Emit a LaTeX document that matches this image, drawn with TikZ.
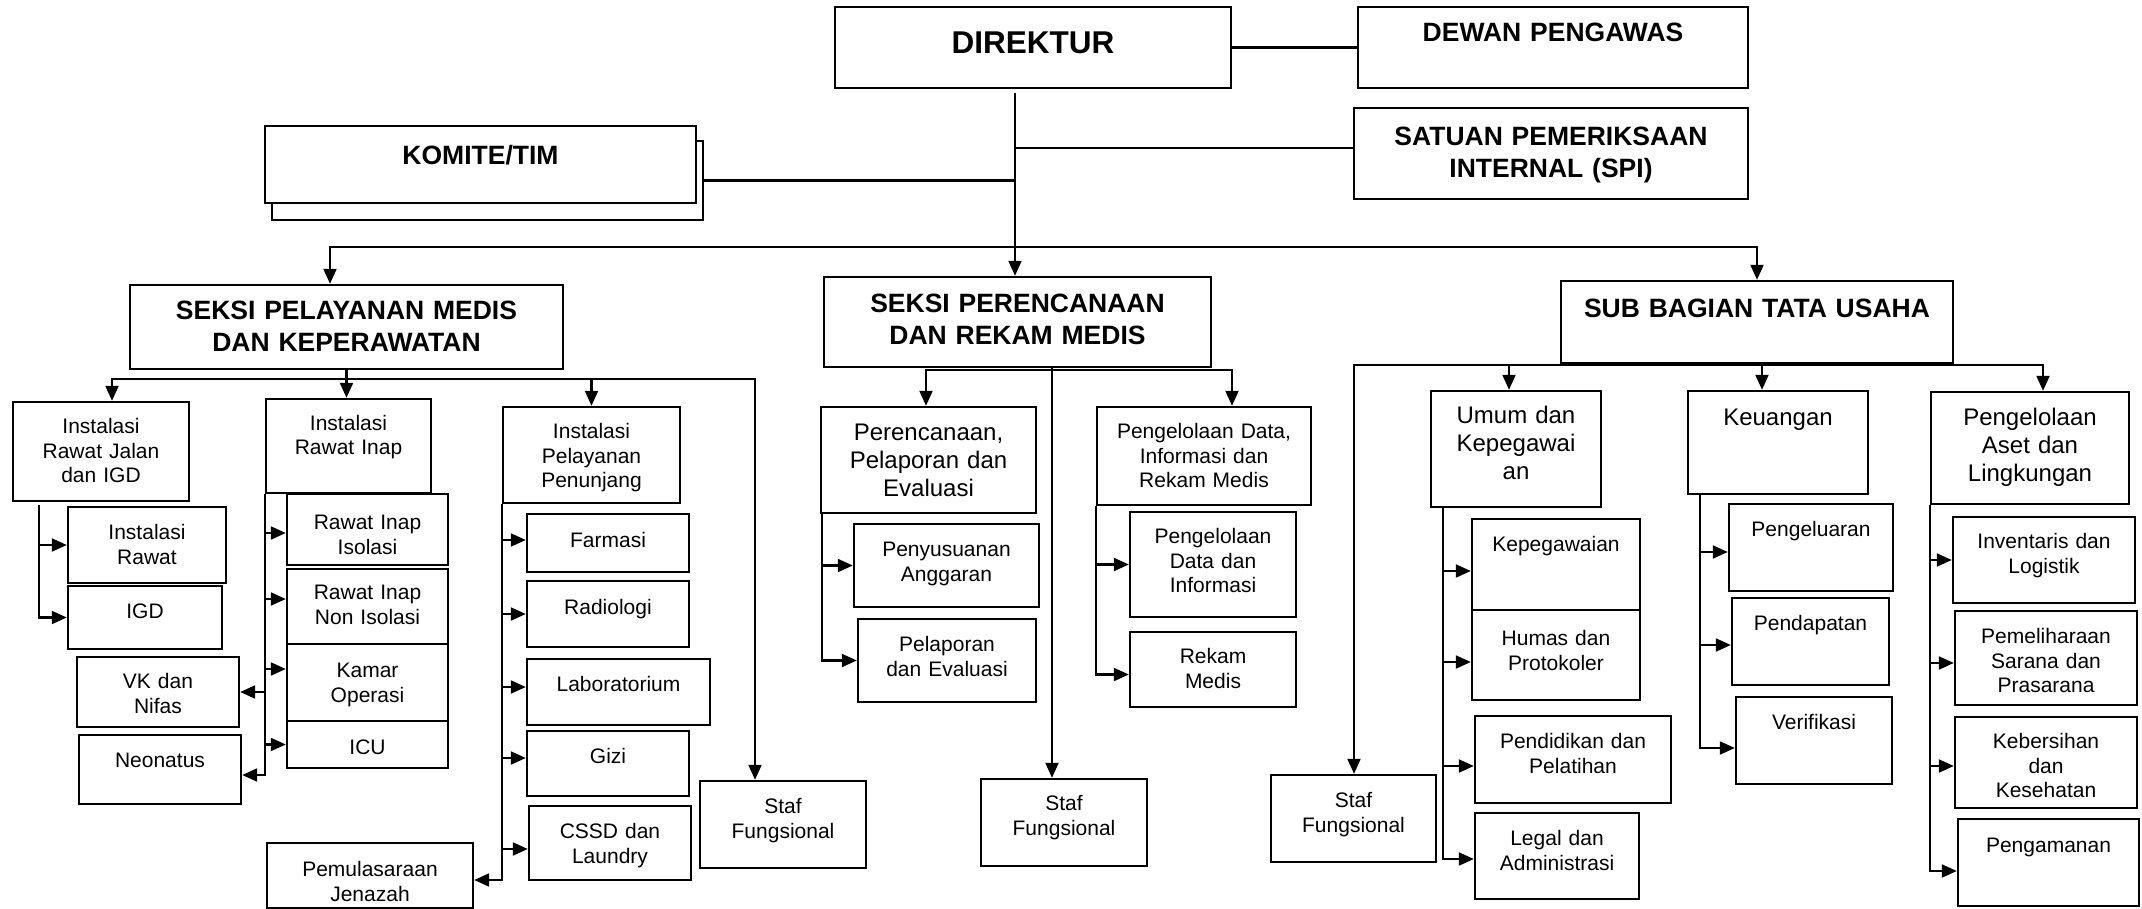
\documentclass[tikz,border=0pt]{standalone}
\usepackage{fontspec}
\setmainfont{Liberation Sans}
\usetikzlibrary{arrows.meta,positioning,calc}

\begin{document}
\begin{tikzpicture}[
x=1pt,
y=-1pt,
box/.style={rectangle,draw,line width=2.4pt,fill=white,inner sep=0pt,align=center},
toppad/.code={\def\bxpad{#1pt}},
wh/.code 2 args={\pgfmathsetlengthmacro\bxdep{#2pt-\bxpad}%
  \edef\bxset{\noexpand\tikzset{text width=#1pt,text height=\bxpad,text depth=\bxdep}}\bxset},
unitbox/.style={box,font=\fontsize{21}{24.5}\selectfont,toppad=32.5},
subbox/.style={box,font=\fontsize{24}{28}\selectfont,toppad=33.5},
headbox/.style={box,font=\fontsize{26.5}{32}\selectfont\bfseries,toppad=36},
chiefbox/.style={box,font=\fontsize{31.5}{36}\selectfont\bfseries,toppad=47},
dy/.style={transform canvas={yshift=#1}},
ln/.style={line width=2.1pt},
arr/.style={line width=2.1pt,-{Triangle[length=15pt,width=13pt]}},
arrs/.style={line width=2.1pt,{Triangle[length=15pt,width=13pt]}-{Triangle[length=15pt,width=13pt]}}
]
\useasboundingbox (0,0) rectangle (2142,909);

\node[chiefbox,wh={396}{81}] (dir) at (1033,47.5) {DIREKTUR};
\node[headbox,toppad=34.5,wh={390}{81}] (dewan) at (1553,47.5) {DEWAN PENGAWAS};
\node[headbox,toppad=37.5,wh={394}{91}] (spi) at (1551,153.5) {SATUAN PEMERIKSAAN\\INTERNAL (SPI)};
\node[headbox,wh={431}{79}] (komback) at (487.5,180.5) {};
\node[headbox,toppad=38.5,wh={431}{77}] (komite) at (480.5,164.5) {KOMITE/TIM};

\node[headbox,toppad=34.5,wh={433}{84}] (sp) at (346.5,327) {SEKSI PELAYANAN MEDIS\\DAN KEPERAWATAN};
\node[headbox,toppad=35.5,wh={387}{90}] (spr) at (1017.5,322) {SEKSI PERENCANAAN\\DAN REKAM MEDIS};
\node[headbox,toppad=36.5,wh={392}{82}] (sbtu) at (1757,322) {SUB BAGIAN TATA USAHA};

\node[unitbox,toppad=31.5,wh={176}{99}] (rj) at (101,451.5) {Instalasi\\Rawat Jalan\\dan IGD};
\node[unitbox,wh={158}{76}] (irawat) at (147,545) {Instalasi\\Rawat};
\node[unitbox,wh={154}{63}] (igd) at (145,617.5) {IGD};
\node[unitbox,toppad=31.5,wh={162}{70}] (vk) at (158,692) {VK dan\\Nifas};
\node[unitbox,wh={162}{69}] (neo) at (160,769.5) {Neonatus};

\node[unitbox,toppad=31,wh={165}{94}] (ri) at (348.5,446) {Instalasi\\Rawat Inap};
\node[unitbox,toppad=35.5,wh={161}{71}] (isol) at (367.5,529.5) {Rawat Inap\\Isolasi};
\node[unitbox,toppad=30.5,wh={161}{75}] (nonisol) at (367.5,606.5) {Rawat Inap\\Non Isolasi};
\node[unitbox,toppad=33.5,wh={161}{77}] (kamar) at (367.5,682.5) {Kamar\\Operasi};
\node[unitbox,toppad=33.5,wh={161}{47}] (icu) at (367.5,744.5) {ICU};

\node[unitbox,toppad=31.5,wh={177}{96}] (pen) at (591.5,455) {Instalasi\\Pelayanan\\Penunjang};
\node[unitbox,toppad=33.5,wh={162}{58}] (farmasi) at (608,543) {Farmasi};
\node[unitbox,toppad=33.5,wh={162}{66}] (radio) at (608,614) {Radiologi};
\node[unitbox,wh={183}{66}] (lab) at (618.5,692) {Laboratorium};
\node[unitbox,wh={162}{65}] (gizi) at (608,763.5) {Gizi};
\node[unitbox,wh={162}{74}] (cssd) at (610,843) {CSSD dan\\Laundry};
\node[unitbox,toppad=33.5,wh={206}{65}] (pemu) at (370,875.5) {Pemulasaraan\\Jenazah};
\node[unitbox,wh={166}{87}] (staf1) at (783,824.5) {Staf\\Fungsional};

\node[subbox,wh={215}{106}] (perenc) at (928.5,460) {Perencanaan,\\Pelaporan dan\\Evaluasi};
\node[unitbox,toppad=31.5,wh={214}{98}] (pdirm) at (1204,456) {Pengelolaan Data,\\Informasi dan\\Rekam Medis};
\node[unitbox,wh={185}{83}] (penyu) at (946.5,565.5) {Penyusuanan\\Anggaran};
\node[unitbox,wh={178}{83}] (pelap) at (947,660.5) {Pelaporan\\dan Evaluasi};
\node[unitbox,toppad=31.5,wh={166}{105}] (pdi) at (1213,564.5) {Pengelolaan\\Data dan\\Informasi};
\node[unitbox,toppad=31.5,wh={166}{75}] (rm) at (1213,669.5) {Rekam\\Medis};
\node[unitbox,toppad=31.5,wh={166}{87}] (staf2) at (1064,822.5) {Staf\\Fungsional};

\node[unitbox,wh={165}{87}] (staf3) at (1353.5,818.5) {Staf\\Fungsional};
\node[subbox,toppad=32.5,wh={170}{116}] (umum) at (1516,449) {Umum dan\\Kepegawai\\an};
\node[subbox,toppad=34.5,wh={180}{103}] (keu) at (1778,442.5) {Keuangan};
\node[subbox,wh={198}{112}] (aset) at (2030,448) {Pengelolaan\\Aset dan\\Lingkungan};
\node[unitbox,wh={168}{91}] (kep) at (1556,564.5) {Kepegawaian};
\node[unitbox,toppad=35.5,wh={168}{90}] (humas) at (1556,655) {Humas dan\\Protokoler};
\node[unitbox,wh={196}{87}] (pend) at (1573,759.5) {Pendidikan dan\\Pelatihan};
\node[unitbox,wh={164}{86}] (legal) at (1557,856) {Legal dan\\Administrasi};
\node[unitbox,wh={164}{87}] (pengel) at (1811,547.5) {Pengeluaran};
\node[unitbox,wh={157}{87}] (pendap) at (1810.5,641.5) {Pendapatan};
\node[unitbox,wh={156}{87}] (verif) at (1814,740.5) {Verifikasi};
\node[unitbox,toppad=31.5,wh={182}{86}] (inv) at (2044,560) {Inventaris dan\\Logistik};
\node[unitbox,wh={182}{94}] (pemel) at (2046,658) {Pemeliharaan\\Sarana dan\\Prasarana};
\node[unitbox,toppad=31.5,wh={182}{91}] (keber) at (2046,762.5) {Kebersihan\\dan\\Kesehatan};
\node[unitbox,toppad=33.5,wh={181}{87}] (pengam) at (2048.5,862.5) {Pengamanan};

\coordinate (trunk) at (1015,93);
\coordinate (spiin) at ([yshift=5.5pt]spi.west);
\draw[ln] (dir.east) -- (dewan.west);
\draw[arr] (trunk) -- (trunk |- spr.north);
\draw[ln] (spiin) -- (trunk |- spiin);
\draw[ln] (komback.east) -- (trunk |- komback.east);

\coordinate (busL) at (330,247);
\coordinate (busR) at (1757,247);
\draw[arrs] (busL |- sp.north) -- (busL) -- (busR) -- (sbtu.north);

\coordinate (spL) at (112,379);
\coordinate (spR) at (755,379);
\draw[arrs] (spL |- rj.north) -- (spL) -- (spR) -- (spR |- staf1.north);
\draw[arr] (sp.south) -- (sp.south |- ri.north);
\draw[arr] (pen.north |- spL) -- (pen.north);

\coordinate (rjv) at ([xshift=27pt,yshift=-3pt]rj.south west);
\draw[arr] (rjv) |- (igd.west);
\draw[arr] (rjv |- irawat.west) -- (irawat.west);

\draw[arr] (ri.south west) |- ([yshift=-5.5pt]neo.east);
\draw[arr] (ri.south west |- vk.east) -- (vk.east);
\draw[arr,dy=-3.5pt] (ri.south west |- isol.west) -- (isol.west);
\draw[arr,dy=7.5pt] (ri.south west |- nonisol.west) -- (nonisol.west);
\draw[arr,dy=13.5pt] (ri.south west |- kamar.west) -- (kamar.west);
\draw[arr] (ri.south west |- icu.west) -- (icu.west);

\draw[arr] (pen.south west) |- ([yshift=-4.5pt]pemu.east);
\draw[arr,dy=3pt] (pen.south west |- farmasi.west) -- (farmasi.west);
\draw[arr] (pen.south west |- radio.west) -- (radio.west);
\draw[arr,dy=5pt] (pen.south west |- lab.west) -- (lab.west);
\draw[arr,dy=5.5pt] (pen.south west |- gizi.west) -- (gizi.west);
\draw[arr,dy=-6pt] (pen.south west |- cssd.west) -- (cssd.west);

\coordinate (prL) at (926,370);
\coordinate (prR) at (1232,370);
\coordinate (prv) at ([xshift=34.5pt]spr.south);
\draw[arrs] (prL |- perenc.north) -- (prL) -- (prR) -- (prR |- pdirm.north);
\draw[arr] (prv) -- (prv |- staf2.north);

\coordinate (pev) at ([xshift=2pt]perenc.south west);
\draw[arr] (pev) |- (pelap.west);
\draw[arr] (pev |- penyu.west) -- (penyu.west);
\draw[arr] (pdirm.south west) |- ([yshift=-5pt]rm.west);
\draw[arr] (pdirm.south west |- pdi.west) -- (pdi.west);

\coordinate (tuL) at (1354,365);
\coordinate (tuR) at (2043,365);
\coordinate (umin) at ([xshift=-7pt]umum.north);
\coordinate (kein) at ([xshift=-16pt]keu.north);
\draw[arrs] (tuL |- staf3.north) -- (tuL) -- (tuR) -- (tuR |- aset.north);
\draw[arr] (umin |- tuL) -- (umin);
\draw[arr] (kein |- tuL) -- (kein);

\coordinate (umv) at ([xshift=13pt]umum.south west);
\draw[arr] (umv) |- ([yshift=-3pt]legal.west);
\draw[arr,dy=-6.5pt] (umv |- kep.west) -- (kep.west);
\draw[arr,dy=-7pt] (umv |- humas.west) -- (humas.west);
\draw[arr,dy=-6.5pt] (umv |- pend.west) -- (pend.west);

\coordinate (kev) at ([xshift=13pt]keu.south west);
\draw[arr] (kev) |- ([yshift=-7.5pt]verif.west);
\draw[arr,dy=-4.5pt] (kev |- pengel.west) -- (pengel.west);
\draw[arr,dy=-3.5pt] (kev |- pendap.west) -- (pendap.west);

\draw[arr] (aset.south west) |- ([yshift=-8.5pt]pengam.west);
\draw[arr] (aset.south west |- inv.west) -- (inv.west);
\draw[arr,dy=-5pt] (aset.south west |- pemel.west) -- (pemel.west);
\draw[arr,dy=-3.5pt] (aset.south west |- keber.west) -- (keber.west);
\end{tikzpicture}
\end{document}
